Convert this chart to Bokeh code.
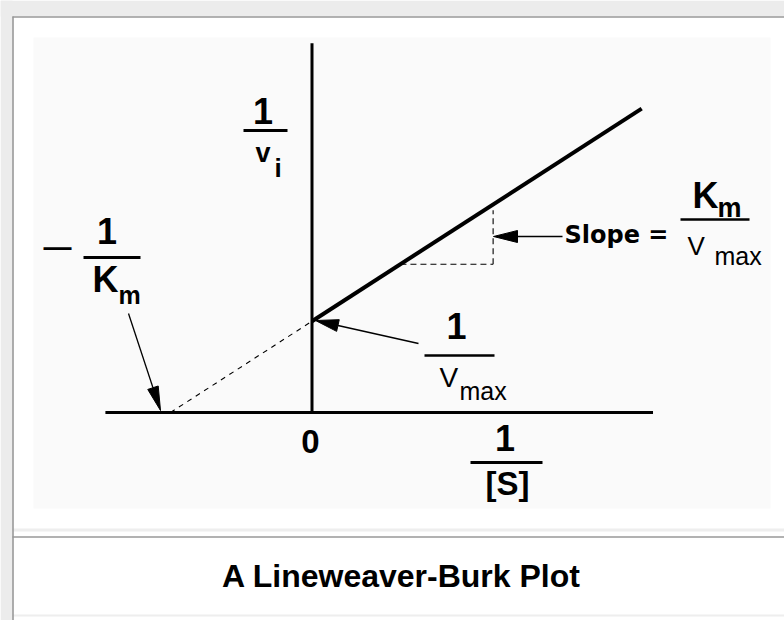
import numpy as np
from bokeh.plotting import figure
from bokeh.models import Range1d
from bokeh.core.properties import value
from bokeh.embed import file_html
from bokeh.resources import INLINE

# ---------------- data (Lineweaver-Burk, arbitrary units) ----
neg_inv_Km = -1.0           # x-intercept  (-1/Km)
inv_Vmax = 0.645            # y-intercept  (1/Vmax)
line_inv_S = [0.0, 2.33]    # solid line, 1/[S]
line_inv_v = [0.645, 2.148] # solid line, 1/v
ext_inv_S = [neg_inv_Km, 0.0]   # dashed extrapolation
ext_inv_v = [0.0, inv_Vmax]
x_axis_span = [-1.46, 2.41]
y_axis_span = [0.0, 2.61]
slope_run_x = [0.625, 1.28]     # slope triangle
slope_run_y = [1.048, 1.048]
slope_rise_x = [1.28, 1.28]
slope_rise_y = [1.048, 1.43]
title_text = "A Lineweaver-Burk Plot"

# ---------------- layout (page pixels -> data units) ----------------
U = 141.5
X0, Y0 = 311.5, 412.0
W, H = 784, 620
OFF = 0


def dx(px):
    return (px - X0) / U


def dy(py):
    return (Y0 - py) / U


p = figure(width=W, height=H,
           x_range=Range1d(dx(OFF), dx(OFF + W)),
           y_range=Range1d(dy(OFF + H), dy(OFF)),
           output_backend="svg", toolbar_location=None, tools="",
           x_axis_location=None, y_axis_location=None, min_border=0,
           outline_line_color=None, background_fill_color="white",
           border_fill_color="white")
p.grid.visible = False

# page decoration
p.quad(left=[dx(0), dx(0)], right=[dx(12), dx(784)],
       bottom=[dy(620), dy(16)], top=[dy(0), dy(0)],
       fill_color="#ececec", line_color=None)
p.quad(left=[dx(12)], right=[dx(784)], bottom=[dy(531)], top=[dy(528)],
       fill_color="#eeeeee", line_color=None)
p.quad(left=[dx(12)], right=[dx(784)], bottom=[dy(616)], top=[dy(614)],
       fill_color="#eeeeee", line_color=None)
p.quad(left=[dx(33)], right=[dx(770)], bottom=[dy(508)], top=[dy(37)],
       fill_color="#fafafa", line_color=None)
p.segment(x0=[dx(12.5), dx(12), dx(12)], y0=[dy(16), dy(16.5), dy(536.5)],
          x1=[dx(12.5), dx(784), dx(784)], y1=[dy(620), dy(16.5), dy(536.5)],
          line_color="#999999", line_width=1.6)

# dashed helper lines
p.line(ext_inv_S, ext_inv_v, line_color="black", line_width=1.1, line_dash="5 5")
p.line(slope_run_x, slope_run_y, line_color="black", line_width=1.1, line_dash="6 4")
p.line(slope_rise_x, slope_rise_y, line_color="black", line_width=1.1, line_dash="6 4")

# axes
p.line(x_axis_span, [0, 0], line_color="black", line_width=3)
p.line([0, 0], y_axis_span, line_color="black", line_width=3)

# data line
p.line(line_inv_S, line_inv_v, line_color="black", line_width=4)


# arrows
def arrow(tail, tip, L, Wd, lw=1.4):
    t = np.array(tail, float)
    h = np.array(tip, float)
    u = (h - t) / np.hypot(*(h - t))
    n = np.array([-u[1], u[0]])
    base = h - u * L
    pts = [h, base + n * Wd / 2, base - n * Wd / 2]
    p.segment(x0=[dx(t[0])], y0=[dy(t[1])], x1=[dx(base[0])], y1=[dy(base[1])],
              line_color="black", line_width=lw)
    p.patch([dx(q[0]) for q in pts], [dy(q[1]) for q in pts],
            fill_color="black", line_color="black", line_width=1)


arrow((128, 313), (160, 410), 24, 11, 1.3)
arrow((418, 343), (315, 320), 23, 12, 1.5)
arrow((562, 236), (493, 236), 24, 12, 1.5)

# fraction bars
bars = [(243, 287, 130, 3), (83, 140, 257, 3), (424, 494, 355, 2.5),
        (470, 542, 462, 3), (680, 749, 219, 2.5)]
for a, b, yy, w in bars:
    p.segment(x0=[dx(a)], y0=[dy(yy)], x1=[dx(b)], y1=[dy(yy)],
              line_color="black", line_width=w)

SHIFT = 0.355  # svg text sits lower than the alphabetic baseline by ~this * size


def label(px, py, s, size, bold=True, align="left", font="Liberation Sans"):
    p.text(x=[dx(px)], y=[dy(py - SHIFT * size)], text=[s], text_font=value(font),
           text_font_size=value(f"{size}px"),
           text_font_style="bold" if bold else "normal",
           text_align=align, text_baseline="alphabetic", text_color="black")


# 1 / v_i
label(262.5, 123, "1", 36, align="center")
label(255, 162, "v", 27)
label(274, 177, "i", 26)
# - 1 / Km
label(57, 256, "\u2014", 28, align="center")
label(106.5, 243, "1", 36, align="center")
label(92, 292, "K", 36)
label(118, 303, "m", 25)
# 1 / Vmax
label(456, 338, "1", 36, align="center")
label(439, 387, "V", 28, bold=False)
label(459, 399, "max", 25, bold=False)
# 0 and 1/[S]
label(310, 453, "0", 33, align="center")
label(504.5, 450, "1", 36, align="center")
label(507, 495, "[S]", 33, align="center")
# Slope = Km / Vmax
label(564, 243, "Slope =", 24, font="DejaVu Sans")
label(692, 208, "K", 36)
label(717, 217, "m", 27)
label(687, 255, "V", 26, bold=False)
label(714, 264, "max", 25, bold=False)
# caption
label(401, 587, title_text, 32, align="center")

open("out.html", "w").write(file_html(p, INLINE))
